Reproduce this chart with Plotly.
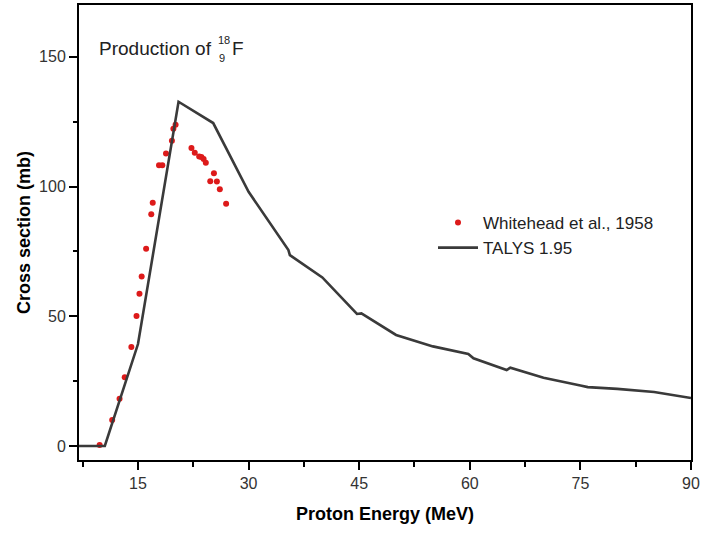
import plotly.graph_objects as go

# Experimental data: Whitehead et al., 1958
exp_energy = [9.8, 11.5, 12.5, 13.2, 14.1, 14.8, 15.2, 15.5, 16.1, 16.8, 17.0,
              17.85, 18.3, 18.8, 19.6, 19.8, 20.1, 22.25, 22.7, 23.3, 23.6, 23.9,
              24.2, 25.3, 24.8, 25.7, 26.1, 26.95]
exp_xs = [0.4, 10.0, 18.2, 26.5, 38.2, 50.1, 58.7, 65.3, 76.0, 89.3, 93.8,
          108.2, 108.2, 112.8, 117.7, 122.3, 123.8, 114.9, 113.0, 111.6, 111.4, 110.6,
          109.2, 105.1, 102.1, 102.0, 99.0, 93.4]

# TALYS 1.95 calculation
talys_energy = [7, 10.5, 15, 20.5, 25.2, 30, 35.4, 35.6, 40, 44.7, 45.3, 50, 55,
                59.8, 60.5, 65, 65.5, 70, 75, 76, 80, 85, 90]
talys_xs = [0, 0, 39.3, 132.7, 124.5, 98, 75.5, 73.6, 65, 50.9, 51.1, 42.8, 38.4,
            35.5, 33.8, 29.3, 30.2, 26.3, 23.3, 22.7, 22.0, 20.8, 18.5]

x_title = "Proton Energy (MeV)"
y_title = "Cross section (mb)"
exp_name = "Whitehead et al., 1958"
talys_name = "TALYS 1.95"

W, H = 701, 534
ML, MR, MT, MB = 79, 10, 5, 74
PW, PH = W - ML - MR, H - MT - MB


def px(xp):
    return (xp - ML) / PW


def py(yp):
    return (H - MB - yp) / PH


FONT = "Liberation Sans, Arial, sans-serif"

fig = go.Figure()
fig.add_trace(go.Scatter(
    x=exp_energy, y=exp_xs, mode="markers", name=exp_name,
    marker=dict(color="#dd1a1a", size=6, line=dict(width=0)),
))
fig.add_trace(go.Scatter(
    x=talys_energy, y=talys_xs, mode="lines", name=talys_name,
    line=dict(color="#3a3a3a", width=2.6),
))

axis_common = dict(
    showline=True, linecolor="black", linewidth=2, mirror=True,
    showgrid=False, zeroline=False,
    ticks="outside", ticklen=8, tickwidth=1.6, tickcolor="black",
    tickfont=dict(family=FONT, size=16, color="#333333"),
)

fig.update_xaxes(
    range=[7, 90], tick0=0, dtick=15,
    minor=dict(dtick=7.5, ticks="outside", ticklen=5, tickwidth=1.6, tickcolor="black"),
    title=dict(text="<b>" + x_title + "</b>", font=dict(family=FONT, size=18, color="black"), standoff=16),
    **axis_common,
)
fig.update_yaxes(
    range=[-5.4, 170], tick0=0, dtick=50,
    minor=dict(dtick=25, ticks="outside", ticklen=4, tickwidth=1.6, tickcolor="black"),
    title=dict(text="<b>" + y_title + "</b>", font=dict(family=FONT, size=18, color="black"), standoff=4),
    **axis_common,
)

ann_font = dict(family=FONT, size=19, color="#222222")
small_font = dict(family=FONT, size=11, color="#222222")
annotations = [
    dict(text="Production of", x=px(97), y=py(48), xanchor="left", yanchor="middle",
         font=ann_font),
    dict(text="18", x=px(216), y=py(40), xanchor="left", yanchor="middle", font=small_font),
    dict(text="9", x=px(217), y=py(58), xanchor="left", yanchor="middle", font=small_font),
    dict(text="F", x=px(230), y=py(48), xanchor="left", yanchor="middle", font=ann_font),
]
for a in annotations:
    a.update(xref="paper", yref="paper", showarrow=False)

fig.update_layout(
    width=W, height=H,
    margin=dict(l=ML, r=MR, t=MT, b=MB, autoexpand=False),
    paper_bgcolor="white", plot_bgcolor="white",
    font=dict(family=FONT, color="#222222"),
    showlegend=True,
    legend=dict(
        x=px(433), y=py(205), xanchor="left", yanchor="top",
        bgcolor="rgba(0,0,0,0)", borderwidth=0,
        font=dict(family=FONT, size=17, color="#222222"),
        itemwidth=40, tracegroupgap=0,
    ),
    annotations=annotations,
)

fig.write_html("out.html", config={"displayModeBar": False},
               post_script="document.body.style.margin='0';")
